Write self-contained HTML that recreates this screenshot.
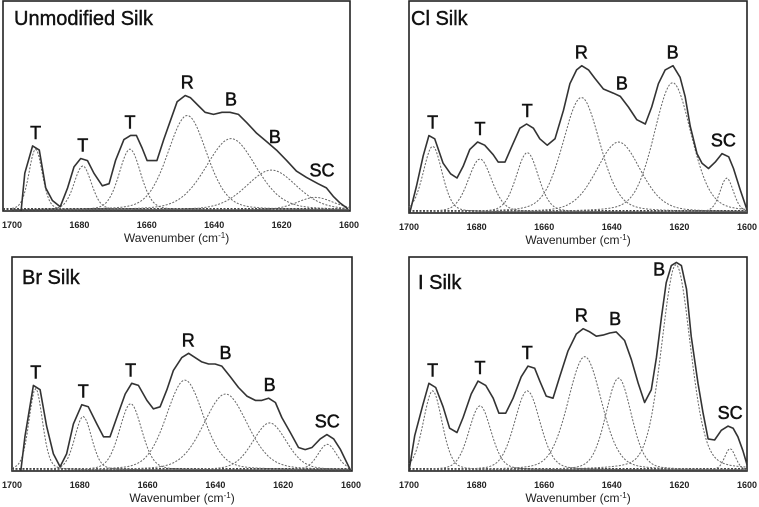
<!DOCTYPE html>
<html><head><meta charset="utf-8">
<style>
html,body{margin:0;padding:0;background:#fff;}
svg{display:block;font-family:"Liberation Sans",sans-serif;}
</style></head>
<body>
<svg id="fig" width="759" height="507" viewBox="0 0 759 507"></svg>
<script>
// ---- data ----
const tickLabels = [1700, 1680, 1660, 1640, 1620, 1600];

// Unmodified silk
const unmodCenters = [1693, 1679, 1665, 1648, 1635, 1623, 1610];
const unmodAmps    = [0.29, 0.21, 0.29, 0.45, 0.34, 0.19, 0.06];
const unmodWidths  = [2.0, 2.6, 3.2, 5.8, 7.5, 7.5, 5.5];
const unmodLabels  = ["T", "T", "T", "R", "B", "B", "SC"];
const unmodLabelWn = [1693, 1679, 1665, 1648, 1635, 1622, 1608];
const unmodFitWn  = [1697.3,1696.2,1693.9,1691.9,1690,1688,1685.7,1683.5,1681.6,1679.6,1677.6,1675.7,1673.2,1671.2,1669.3,1666.8,1664.8,1663.1,1661.4,1659.9,1657,1655,1653,1651,1648.6,1647.1,1644.6,1642.7,1640.2,1637.7,1635.3,1632.8,1630.3,1627.4,1624.4,1621.5,1618.5,1615.6,1612.6,1609.2,1606.7,1604.7,1602.8,1600.3];
const unmodFitVal = [0,0.18,0.31,0.29,0.11,0.05,0.02,0.11,0.21,0.25,0.24,0.18,0.12,0.13,0.24,0.34,0.36,0.36,0.30,0.24,0.24,0.34,0.43,0.52,0.55,0.54,0.50,0.47,0.46,0.47,0.47,0.46,0.42,0.37,0.33,0.29,0.24,0.19,0.16,0.13,0.11,0.07,0.04,0.01];

// Cl silk
const clCenters = [1693, 1679, 1665, 1649, 1638, 1622, 1606];
const clAmps    = [0.31, 0.25, 0.28, 0.54, 0.33, 0.61, 0.16];
const clWidths  = [2.8, 3.5, 3.3, 5.5, 6.5, 5.5, 2.0];
const clLabels  = ["T", "T", "T", "R", "B", "B", "SC"];
const clLabelWn = [1693, 1679, 1665, 1649, 1637, 1622, 1607];
const clFitWn  = [1699.8,1697.8,1695.8,1694.1,1692.4,1689.9,1687.7,1685.8,1684,1682,1679.7,1677.6,1675.1,1673.6,1671.6,1669.7,1667.2,1665.2,1663.2,1661.3,1659.1,1656.8,1654.3,1652.4,1650.4,1648.9,1646.9,1645,1642.5,1639.5,1637.5,1635.1,1632.6,1630.1,1628.2,1626.2,1624.2,1621.9,1619.8,1618.3,1616.8,1614.8,1613.3,1611.4,1609.4,1607.4,1605.4,1604,1602,1600];
const clFitVal = [0,0.125,0.27,0.365,0.35,0.235,0.185,0.165,0.22,0.30,0.335,0.32,0.275,0.24,0.24,0.31,0.40,0.42,0.40,0.35,0.32,0.35,0.485,0.61,0.675,0.695,0.675,0.635,0.585,0.565,0.55,0.50,0.44,0.42,0.50,0.61,0.675,0.695,0.64,0.55,0.41,0.28,0.235,0.21,0.24,0.28,0.265,0.21,0.11,0.015];

// Br silk
const brCenters = [1693, 1679, 1665, 1649, 1637, 1624, 1607];
const brAmps    = [0.38, 0.25, 0.31, 0.42, 0.355, 0.22, 0.12];
const brWidths  = [2.0, 2.5, 3.3, 5.5, 6.5, 5.0, 2.8];
const brLabels  = ["T", "T", "T", "R", "B", "B", "SC"];
const brLabelWn = [1693, 1679, 1665, 1648, 1637, 1624, 1607];
const brFitWn  = [1697.4,1696.2,1693.7,1691.7,1689.8,1687.8,1685.8,1683.9,1681.9,1679.4,1677.5,1675,1673,1671.1,1669.1,1666.6,1664.7,1662.7,1660.2,1658.3,1656.3,1654.3,1652.4,1649.9,1647.9,1646,1644,1642,1640.1,1638.1,1635.6,1633.2,1630.7,1628.2,1626.3,1624.3,1622.3,1620.4,1617.9,1615.5,1613.5,1611.5,1609.1,1607.1,1605.1,1603.1,1600.2];
const brFitVal = [0,0.16,0.40,0.38,0.21,0.08,0.02,0.08,0.22,0.31,0.30,0.22,0.16,0.16,0.25,0.36,0.41,0.40,0.33,0.29,0.30,0.38,0.47,0.53,0.55,0.53,0.51,0.50,0.50,0.49,0.44,0.39,0.35,0.33,0.33,0.34,0.32,0.25,0.18,0.11,0.10,0.11,0.15,0.17,0.15,0.10,0.005];

// I silk
const iCenters = [1693, 1679, 1665, 1648, 1638, 1621, 1605];
const iAmps    = [0.37, 0.30, 0.37, 0.53, 0.43, 0.96, 0.10];
const iWidths  = [2.8, 3.3, 3.8, 5.0, 3.8, 4.3, 1.6];
const iLabels  = ["T", "T", "T", "R", "B", "B", "SC"];
const iLabelWn = [1693, 1679, 1665, 1649, 1639, 1626, 1605];
const iFitWn  = [1700,1698.3,1695.9,1694.1,1692.1,1689.9,1688,1685.8,1684,1681.6,1679.6,1677.3,1675.1,1673.4,1671.4,1669.2,1666.8,1664.8,1662.8,1661.3,1659.4,1657.4,1655.4,1653,1650.5,1648.5,1646.5,1644.6,1642.6,1640.6,1638.7,1636.2,1634.2,1632.2,1630.3,1628.3,1626.8,1625.3,1623.9,1622.4,1620.9,1619.4,1617.9,1616.5,1614.5,1613,1611.5,1609.6,1607.6,1605.6,1604.1,1602.7,1601.2,1600];
const iFitVal = [0,0.165,0.31,0.41,0.39,0.30,0.20,0.18,0.25,0.36,0.42,0.40,0.34,0.27,0.27,0.34,0.44,0.49,0.48,0.42,0.35,0.34,0.44,0.56,0.64,0.665,0.65,0.63,0.635,0.645,0.65,0.61,0.52,0.41,0.32,0.38,0.53,0.72,0.88,0.96,0.975,0.96,0.85,0.63,0.41,0.27,0.15,0.145,0.19,0.21,0.20,0.16,0.095,0.03];

const NS = "http://www.w3.org/2000/svg";
const svg = document.getElementById('fig');
function mk(tag, attrs, parent){
  const e = document.createElementNS(NS, tag);
  for (const k in attrs) e.setAttribute(k, attrs[k]);
  (parent||svg).appendChild(e);
  return e;
}
function pv(x, c, a, s){
  const d = x - c;
  return a*(0.75*Math.exp(-d*d/(2*s*s)) + 0.25/(1 + Math.pow(d/(s*1.177),2)));
}
function fitAt(wns, vals, w){
  let best = 0;
  for (let i = 0; i < wns.length; i++) if (Math.abs(wns[i]-w) <= 2.2) best = Math.max(best, vals[i]);
  return best;
}
function panel(name, title, box, sx, centers, amps, widths, labels, labelWn, fitWn, fitVal, titlePos){
  const g = mk('g', {});
  
  
  const xs = w => sx[0] + (1700 - w) / 100 * (sx[1] - sx[0]);
  const ys = v => box.y1 - v * (box.y1 - box.y0);
  const frame = mk('rect', {x:box.x0, y:box.y0, width:box.x1-box.x0, height:box.y1-box.y0, fill:'none', stroke:'#222', 'stroke-width':1.6}, g);
  
  
  const bl = mk('line', {x1:box.x0, x2:box.x1, y1:box.y1-2, y2:box.y1-2, stroke:'#444', 'stroke-width':2, 'stroke-dasharray':'2,1.5'}, g);
  
  
  for (let i = 0; i < centers.length; i++){
    let d = '';
    for (let w = 1700; w >= 1600; w -= 0.5){
      d += (w === 1700 ? 'M' : 'L') + xs(w).toFixed(1) + ',' + (ys(pv(w, centers[i], amps[i], widths[i])) - 1).toFixed(1);
    }
    const p = mk('path', {d:d, fill:'none', stroke:'#666', 'stroke-width':1, 'stroke-dasharray':'2,1.5'}, g);
    
    
  }
  let d = '';
  for (let i = 0; i < fitWn.length; i++){
    d += (i === 0 ? 'M' : 'L') + xs(fitWn[i]).toFixed(1) + ',' + ys(fitVal[i]).toFixed(1);
  }
  const sp = mk('path', {d:d, fill:'none', stroke:'#333', 'stroke-width':1.6, 'stroke-linejoin':'round'}, g);
  
  
  for (let i = 0; i < labels.length; i++){
    const t = mk('text', {x:xs(labelWn[i]), y:ys(fitAt(fitWn, fitVal, labelWn[i])) - 7, 'text-anchor':'middle', 'font-size':18, fill:'#111', stroke:'#111', 'stroke-width':0.5}, g);
    t.textContent = labels[i];
    
    
  }
  tickLabels.forEach(v => {
    const t = mk('text', {x:xs(v), y:box.y1 + 17, 'text-anchor':'middle', 'font-size':9, 'font-weight':'bold', fill:'#222'}, g);
    t.textContent = v;
    
    
  });
  const xt = mk('text', {x:(box.x0 + box.x1)/2, y:box.y1 + 31, 'text-anchor':'middle', 'font-size':12, fill:'#222'}, g);
  xt.innerHTML = 'Wavenumber (cm<tspan dy="-4" font-size="8">-1</tspan><tspan dy="4">)</tspan>';
  
  
  const tt = mk('text', {x:titlePos[0], y:titlePos[1], 'font-size':20, fill:'#111', stroke:'#111', 'stroke-width':0.4}, g);
  tt.textContent = title;
  
  
}
panel('unmodified', 'Unmodified Silk', {x0:3, x1:350, y0:1, y1:211}, [12, 349], unmodCenters, unmodAmps, unmodWidths, unmodLabels, unmodLabelWn, unmodFitWn, unmodFitVal, [14, 25]);
panel('cl', 'Cl Silk', {x0:409, x1:747, y0:1, y1:213}, [409, 747], clCenters, clAmps, clWidths, clLabels, clLabelWn, clFitWn, clFitVal, [411, 25]);
panel('br', 'Br Silk', {x0:12, x1:352, y0:257, y1:471}, [12, 351], brCenters, brAmps, brWidths, brLabels, brLabelWn, brFitWn, brFitVal, [22, 284]);
panel('i', 'I Silk', {x0:409, x1:747, y0:257, y1:471}, [409, 747], iCenters, iAmps, iWidths, iLabels, iLabelWn, iFitWn, iFitVal, [418, 289]);
</script>
</body></html>
